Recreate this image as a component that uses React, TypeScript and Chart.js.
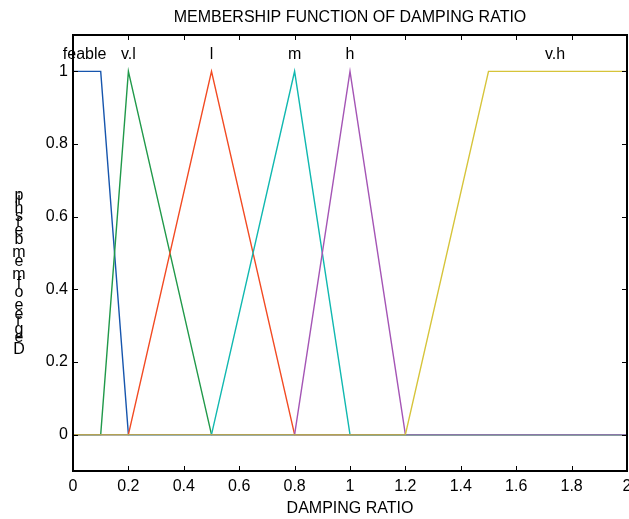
import React, { useEffect, useRef } from "react";
import { Chart, registerables } from "chart.js";

Chart.register(...registerables);

const titleText = "MEMBERSHIP FUNCTION OF DAMPING RATIO";
const xTitle = "DAMPING RATIO";
const yTitle = "Degree of membership";

const xTicks = [0, 0.2, 0.4, 0.6, 0.8, 1, 1.2, 1.4, 1.6, 1.8, 2];
const yTicks = [0, 0.2, 0.4, 0.6, 0.8, 1];

const mfNames = ["feable", "v.l", "l", "m", "h", "v.h"];
const labelX = [0.042, 0.2, 0.5, 0.8, 1.0, 1.74];
const labelY = 1.035;

const feableX = [0, 0.1, 0.2, 2];
const feableY = [1, 1, 0, 0];
const vlX = [0, 0.1, 0.2, 0.5, 2];
const vlY = [0, 0, 1, 0, 0];
const lX = [0, 0.2, 0.5, 0.8, 2];
const lY = [0, 0, 1, 0, 0];
const mX = [0, 0.5, 0.8, 1.0, 2];
const mY = [0, 0, 1, 0, 0];
const hX = [0, 0.8, 1.0, 1.2, 2];
const hY = [0, 0, 1, 0, 0];
const vhX = [0, 1.2, 1.5, 2];
const vhY = [0, 0, 1, 1];

const colors = ["#1655ad", "#20994a", "#f24a22", "#10b8b0", "#a455b5", "#d6c43a"];
const zeroColors = ["#1655ad", "#20994a", "#f24a22", "#10b8b0", "#8a78a8", "#b3a254"];

const FONT = "Liberation Sans, Arial, sans-serif";

function pts(xs: number[], ys: number[]) {
  return xs.map((x, i) => ({ x, y: ys[i] }));
}

const overlay = {
  id: "overlay",
  afterDraw(chart: any) {
    const ctx = chart.ctx;
    const a = chart.chartArea;
    const xs = chart.scales.x;
    const ys = chart.scales.y;
    ctx.save();
    ctx.strokeStyle = "#000";
    ctx.lineWidth = 2;
    ctx.strokeRect(a.left, a.top, a.right - a.left, a.bottom - a.top);
    ctx.lineWidth = 1;
    ctx.beginPath();
    xTicks.forEach((v) => {
      const px = Math.round(xs.getPixelForValue(v)) + 0.5;
      ctx.moveTo(px, a.bottom);
      ctx.lineTo(px, a.bottom - 5);
      ctx.moveTo(px, a.top);
      ctx.lineTo(px, a.top + 5);
    });
    yTicks.forEach((v) => {
      const py = Math.round(ys.getPixelForValue(v)) + 0.5;
      ctx.moveTo(a.left, py);
      ctx.lineTo(a.left + 5, py);
      ctx.moveTo(a.right, py);
      ctx.lineTo(a.right - 5, py);
    });
    ctx.stroke();

    ctx.fillStyle = "#000";
    ctx.font = "16px " + FONT;
    ctx.textAlign = "center";
    ctx.textBaseline = "alphabetic";
    ctx.fillText(titleText, (a.left + a.right) / 2, 22);
    ctx.fillText(xTitle, (a.left + a.right) / 2, 513);

    mfNames.forEach((n, i) => {
      ctx.fillText(n, xs.getPixelForValue(labelX[i]), ys.getPixelForValue(labelY));
    });

    // broken vertical label: upright glyphs stacked along the rotated baseline
    let yPos = 354;
    for (const ch of yTitle) {
      ctx.fillText(ch, 19, yPos);
      yPos -= ctx.measureText(ch).width;
    }
    ctx.restore();
  },
};

export default function App() {
  const ref = useRef<HTMLCanvasElement | null>(null);
  useEffect(() => {
    if (!ref.current) return;
    const series = [
      [feableX, feableY],
      [vlX, vlY],
      [lX, lY],
      [mX, mY],
      [hX, hY],
      [vhX, vhY],
    ];
    const chart = new Chart(ref.current, {
      type: "scatter",
      data: {
        datasets: series.map((s, i) => ({
          label: mfNames[i],
          data: pts(s[0], s[1]),
          showLine: true,
          order: series.length - i,
          borderColor: colors[i],
          borderWidth: 1.4,
          pointRadius: 0,
          segment: {
            borderColor: (c: any) =>
              c.p0.parsed.y === 0 && c.p1.parsed.y === 0 ? zeroColors[i] : colors[i],
          },
        })),
      },
      options: {
        animation: false,
        responsive: false,
        layout: { padding: { top: 35, right: 2, left: 0, bottom: 0 } },
        plugins: { legend: { display: false }, tooltip: { enabled: false }, title: { display: false } },
        scales: {
          x: {
            type: "linear",
            min: 0,
            max: 2,
            grid: { display: false, drawTicks: false },
            border: { display: false },
            afterBuildTicks: (s: any) => {
              s.ticks = xTicks.map((v) => ({ value: v }));
            },
            afterFit: (s: any) => {
              s.height = 48;
              s.paddingLeft = 0;
              s.paddingRight = 0;
            },
            ticks: {
              color: "#000",
              font: { family: FONT, size: 16 },
              padding: 6,
              maxRotation: 0,
              autoSkip: false,
              callback: (v: any) => String(parseFloat(Number(v).toFixed(2))),
            },
          },
          y: {
            type: "linear",
            min: -0.1,
            max: 1.1,
            grid: { display: false, drawTicks: false },
            border: { display: false },
            afterBuildTicks: (s: any) => {
              s.ticks = yTicks.map((v) => ({ value: v }));
            },
            afterFit: (s: any) => {
              s.width = 73;
              s.paddingTop = 0;
              s.paddingBottom = 0;
            },
            ticks: {
              color: "#000",
              font: { family: FONT, size: 16 },
              padding: 5,
              autoSkip: false,
              callback: (v: any) => String(parseFloat(Number(v).toFixed(2))),
            },
          },
        },
      },
      plugins: [overlay],
    });
    return () => chart.destroy();
  }, []);
  return (
    <div style={{ position: "fixed", left: 0, top: 0, width: 629, height: 519, background: "#fff" }}>
      <canvas ref={ref} width={629} height={519} style={{ display: "block" }} />
    </div>
  );
}
